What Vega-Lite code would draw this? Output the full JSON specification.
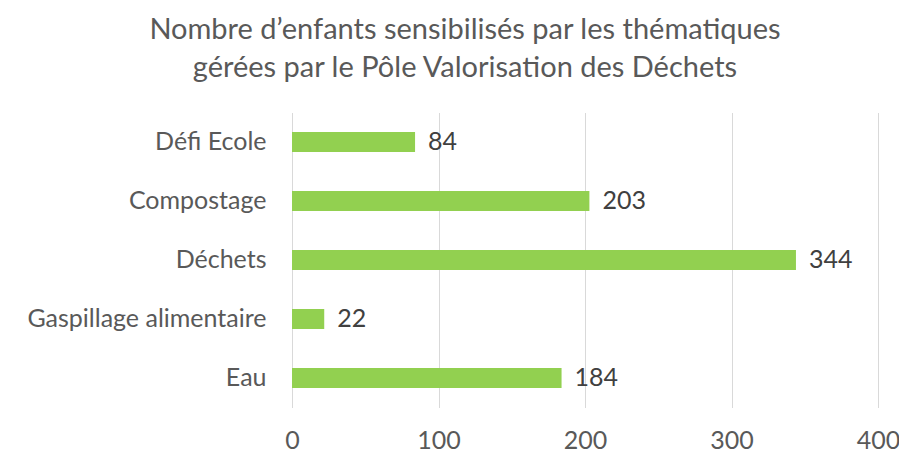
{
  "$schema": "https://vega.github.io/schema/vega-lite/v6.json",
  "autosize": "none",
  "width": 586,
  "height": 295,
  "padding": {"left": 292, "top": 112.5, "right": 21, "bottom": 46.5},
  "background": "white",
  "title": {
    "text": ["Nombre d’enfants sensibilisés par les thématiques", "gérées par le Pôle Valorisation des Déchets"],
    "anchor": "middle",
    "frame": "group",
    "dx": -120,
    "offset": 30,
    "font": "Lato",
    "fontSize": 29,
    "fontWeight": "normal",
    "color": "#595959",
    "lineHeight": 38
  },
  "config": {
    "view": {"stroke": null},
    "font": "Lato"
  },
  "data": {
    "values": [
      {"theme": "Défi Ecole", "value": 84},
      {"theme": "Compostage", "value": 203},
      {"theme": "Déchets", "value": 344},
      {"theme": "Gaspillage alimentaire", "value": 22},
      {"theme": "Eau", "value": 184}
    ]
  },
  "encoding": {
    "y": {
      "field": "theme",
      "type": "nominal",
      "sort": null,
      "title": null,
      "scale": {"paddingInner": 0.66, "paddingOuter": 0.33},
      "axis": {
        "domain": false,
        "ticks": false,
        "labelPadding": 26,
        "labelLimit": 0,
        "labelFont": "Lato",
        "labelFontSize": 25,
        "labelColor": "#595959",
        "grid": false
      }
    },
    "x": {
      "field": "value",
      "type": "quantitative",
      "title": null,
      "scale": {"domain": [0, 400]},
      "axis": {
        "values": [0, 100, 200, 300, 400],
        "domain": false,
        "ticks": false,
        "grid": true,
        "gridColor": "#d9d9d9",
        "gridWidth": 1,
        "labelFlush": false,
        "labelPadding": 21,
        "labelFont": "Lato",
        "labelFontSize": 25,
        "labelColor": "#595959"
      }
    }
  },
  "layer": [
    {"mark": {"type": "bar", "color": "#92D050"}},
    {
      "mark": {"type": "text", "align": "left", "baseline": "middle", "dx": 13, "font": "Lato", "fontSize": 25, "color": "#404040"},
      "encoding": {"text": {"field": "value", "type": "quantitative"}}
    }
  ]
}
